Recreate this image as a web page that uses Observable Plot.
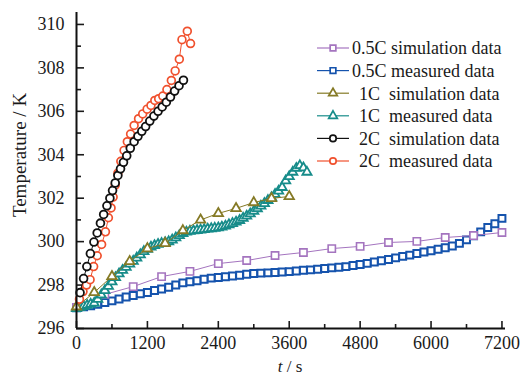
<!DOCTYPE html>
<html><head><meta charset="utf-8">
<script src="https://cdn.jsdelivr.net/npm/d3@7"></script>
<script src="https://cdn.jsdelivr.net/npm/@observablehq/plot@0.6"></script>
<style>
body{margin:0;background:#fff;}
#chart{position:relative;width:521px;height:376px;}
</style></head><body><div id="chart"></div>
<script>
// tick values
const xTicks = [0, 1200, 2400, 3600, 4800, 6000, 7200];
const xMinor = [600, 1800, 3000, 4200, 5400, 6600];
const yTicks = [296, 298, 300, 302, 304, 306, 308, 310];
const yMinor = [297, 299, 301, 303, 305, 307, 309];

// 0.5C simulation
const sim05T = [0,480,960,1440,1920,2400,2880,3360,3840,4320,4800,5280,5760,6240,6720,7200];
const sim05V = [296.97,297.57,297.93,298.39,298.63,298.99,299.13,299.36,299.50,299.68,299.78,299.96,300.01,300.19,300.28,300.42];

// 0.5C measured
const mea05T = [0,120,240,360,480,600,720,840,960,1080,1200,1320,1440,1560,1680,1800,1920,2040,2160,2280,2400,2520,2640,2760,2880,3000,3120,3240,3360,3480,3600,3720,3840,3960,4080,4200,4320,4440,4560,4680,4800,4920,5040,5160,5280,5400,5520,5640,5760,5880,6000,6120,6240,6360,6480,6600,6720,6840,6960,7080,7200];
const mea05V = [296.95,297.0,297.05,297.12,297.2,297.27,297.36,297.45,297.52,297.6,297.66,
297.75,297.82,297.9,298.0,298.1,298.15,298.2,298.27,298.32,298.35,
298.38,298.42,298.45,298.5,298.53,298.55,298.56,298.58,298.6,298.62,
298.65,298.68,298.7,298.73,298.76,298.79,298.82,298.85,298.9,298.95,
299.0,299.06,299.12,299.18,299.25,299.32,299.38,299.45,299.52,299.58,
299.65,299.72,299.8,299.92,300.08,300.27,300.45,300.65,300.82,301.07];

// 1C simulation
const sim1T = [0,300,600,900,1200,1500,1800,2100,2400,2700,3000,3300,3600];
const sim1V = [297.0,297.66,298.4,299.09,299.68,299.92,300.51,301.0,301.3,301.53,301.8,301.99,302.08];

// 1C measured
const mea1T = [0,60,120,180,240,300,360,420,480,540,600,660,720,780,840,900,960,1020,1080,1140,1200,1260,1320,1380,1440,1500,1560,1620,1680,1740,1800,1860,1920,1980,2040,2100,2160,2220,2280,2340,2400,2460,2520,2580,2640,2700,2760,2820,2880,2940,3000,3060,3120,3180,3240,3300,3360,3420,3480,3540,3600,3660,3720,3780,3840,3900];
const mea1V = [296.92,296.97,297.02,297.07,297.12,297.17,297.35,297.55,297.75,297.95,298.15,298.35,298.52,298.68,298.82,298.97,299.1,299.25,299.4,299.55,299.65,299.75,299.82,299.88,299.92,299.96,300.0,300.08,300.18,300.28,300.38,300.44,300.48,300.5,300.52,300.54,300.56,300.58,300.6,300.62,300.64,300.67,300.72,300.78,300.84,300.9,300.98,301.08,301.18,301.28,301.4,301.52,301.64,301.76,301.9,302.03,302.18,302.33,302.5,302.8,303.0,303.2,303.38,303.5,303.4,303.2];

// 2C simulation
const sim2T = [60,120,175,235,295,350,405,460,515,565,610,655,700,745,795,850,910,975,1040,1105,1170,1240,1310,1380,1450,1520,1590,1660,1735,1810];
const sim2V = [297.65,298.3,298.85,299.45,299.98,300.4,300.85,301.25,301.65,302.0,302.35,302.7,303.05,303.35,303.65,303.95,304.3,304.6,304.85,305.08,305.3,305.55,305.78,306.0,306.2,306.42,306.66,306.93,307.18,307.43];

// 2C measured
const mea2T = [50,110,170,230,290,350,425,490,540,585,620,655,700,750,805,860,915,975,1050,1120,1195,1260,1325,1390,1460,1530,1605,1670,1740,1785,1875,1930];
const mea2V = [297.35,297.7,298.0,298.25,298.85,299.35,299.87,300.45,301.1,301.55,302.05,302.6,303.15,303.7,304.2,304.6,304.95,305.35,305.66,305.88,306.1,306.27,306.5,306.58,306.7,307.0,307.42,307.86,308.4,309.3,309.69,309.12];

// legend labels
const legendPrefix = ["0.5C","0.5C","1C","1C","2C","2C"];
const legendRest = ["simulation data","measured data","simulation data","measured data","simulation data","measured data"];

const series = [
  {key:"m05", t:mea05T, v:mea05V, color:"#1553ad", symbol:"square", r:3.9, sw:2.0, lw:1.2},
  {key:"s05", t:sim05T, v:sim05V, color:"#a474bf", symbol:"square", r:4.1, sw:1.6, lw:1.0},
  {key:"m1",  t:mea1T,  v:mea1V,  color:"#178c8a", symbol:"triangle", r:3.4, sw:1.8, lw:1.0},
  {key:"s1",  t:sim1T,  v:sim1V,  color:"#857a26", symbol:"triangle", r:3.5, sw:1.8, lw:1.0},
  {key:"m2",  t:mea2T,  v:mea2V,  color:"#f0512e", symbol:"circle", r:3.9, sw:1.7, lw:1.0},
  {key:"s2",  t:sim2T,  v:sim2V,  color:"#111111", symbol:"circle", r:3.9, sw:1.8, lw:1.0}
];

const marks = [];
for (const s of series) {
  const rows = s.t.map((t, i) => ({t, T: s.v[i]}));
  marks.push(Plot.line(rows, {x:"t", y:"T", stroke:s.color, strokeWidth:s.lw}));
  marks.push(Plot.dot(rows, {x:"t", y:"T", symbol:s.symbol, r:s.r, stroke:s.color, strokeWidth:s.sw, fill:"white"}));
}

const font = "'Liberation Serif', 'Times New Roman', serif";
const fmt = d => String(d);
const svg = Plot.plot({
  width: 521, height: 376,
  marginLeft: 76, marginRight: 16, marginTop: 12, marginBottom: 48,
  x: {domain: [0, 7260], label: null},
  y: {domain: [296, 310.55], label: null},
  style: {fontFamily: font, fontSize: "18px", color: "#1a1a1a", background: "white"},
  marks: [
    Plot.axisX(xTicks, {tickSize: 0, tickPadding: 8, fontSize: 18, label: null, tickFormat: fmt, fontFamily: font}),
    Plot.axisX(xTicks, {tickSize: -7, tickFormat: () => "", label: null, strokeWidth: 1.6}),
    Plot.axisX(xMinor, {tickSize: -4, tickFormat: () => "", label: null, strokeWidth: 1.6}),
    Plot.axisY(yTicks, {tickSize: 0, tickPadding: 12, fontSize: 18, label: null, tickFormat: fmt, fontFamily: font}),
    Plot.axisY(yTicks, {tickSize: -8, tickFormat: () => "", label: null, strokeWidth: 1.6}),
    Plot.axisY(yMinor, {tickSize: -5, tickFormat: () => "", label: null, strokeWidth: 1.6}),
    ...marks,
    Plot.ruleX([0], {stroke: "#111", strokeWidth: 2}),
    Plot.ruleY([296], {stroke: "#111", strokeWidth: 2})
  ]
});
document.getElementById("chart").appendChild(svg);

const g = d3.select(svg);
// axis titles
g.append("text")
  .attr("transform", "translate(26,155) rotate(-90)")
  .attr("text-anchor", "middle")
  .style("font-family", font).style("font-size", "19px").attr("fill", "#1a1a1a")
  .text("Temperature / K");
const xt = g.append("text")
  .attr("x", 290).attr("y", 371.5)
  .attr("text-anchor", "middle")
  .style("font-family", font).style("font-size", "17px").attr("fill", "#1a1a1a");
xt.append("tspan").attr("font-style", "italic").text("t");
xt.append("tspan").text(" / s");

// legend (order as in reference)
const legendOrder = ["s05","m05","s1","m1","s2","m2"];
const symMap = {square: d3.symbolSquare, triangle: d3.symbolTriangle, circle: d3.symbolCircle};
const lg = g.append("g").style("font-family", font).style("font-size", "18px").attr("fill", "#1a1a1a").attr("text-anchor", "start");
legendOrder.forEach((k, i) => {
  const s = series.find(d => d.key === k);
  const y = 48 + i * 22.6;
  lg.append("line").attr("x1", 317).attr("x2", 349).attr("y1", y).attr("y2", y)
    .attr("stroke", s.color).attr("stroke-width", 1.2);
  lg.append("path").attr("transform", `translate(333,${y})`)
    .attr("d", d3.symbol(symMap[s.symbol], Math.PI * 3.2 * 3.2)())
    .attr("fill", "white").attr("stroke", s.color).attr("stroke-width", 1.7);
  const isHalf = legendPrefix[i] === "0.5C";
  lg.append("text").attr("x", isHalf ? 352 : 359).attr("y", y).attr("dy", "0.35em").attr("text-anchor", "start").text(legendPrefix[i]);
  lg.append("text").attr("x", isHalf ? 391 : 389).attr("y", y).attr("dy", "0.35em").attr("text-anchor", "start").text(legendRest[i]);
});
</script></body></html>
